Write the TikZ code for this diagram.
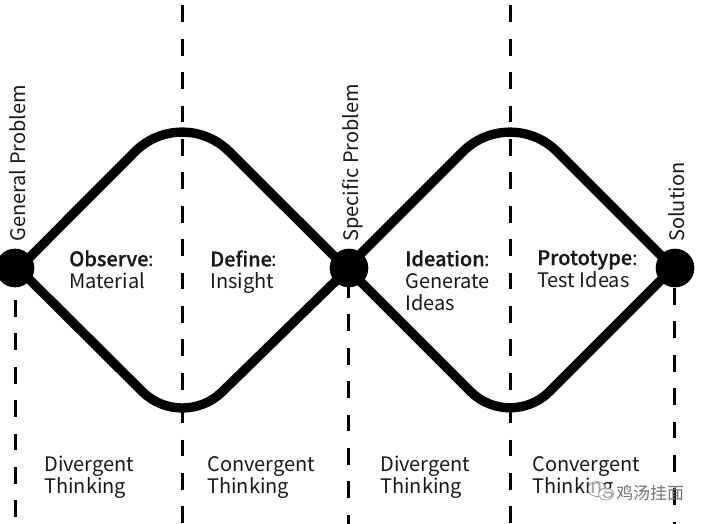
\documentclass[tikz,border=0pt]{standalone}
\usepackage{fontspec}
\setmainfont{Noto Sans CJK SC}[BoldFont={Noto Sans CJK SC Medium},BoldFeatures={FakeBold=0.6}]
\newfontfamily\cjk{Noto Sans CJK SC}
\tikzset{
 px/.style={x=0.75pt,y=-0.75pt},
 dot/.style={circle,fill=black,inner sep=0pt,minimum size=29pt},
 dashline/.style={line width=2.25pt,dash pattern=on 12.6pt off 12.45pt},
 curvetop/.style={line width=7pt,rounded corners=50pt},
 curvebot/.style={line width=7pt,rounded corners=42pt},
 lab/.style={font=\fontsize{15}{16.5}\selectfont,align=left,anchor=north west,inner sep=0pt,text=black!90},
 rot/.style={font=\fontsize{15}{16.5}\selectfont,rotate=90,anchor=west,inner sep=0pt,text=black!90},
 wm/.style={draw=black!45,line width=0.5pt,fill=white,fill opacity=0.6},
}
\begin{document}
\begin{tikzpicture}[px]
\useasboundingbox (0,0) rectangle (706,524);
\clip (0,0) rectangle (706,524);
\coordinate (t1) at (182,5.4); \coordinate (b1) at (182,524);
\coordinate (t2) at (510,5.4); \coordinate (b2) at (510,524);
\coordinate (s0) at (15,300); \coordinate (b0) at (15,524);
\coordinate (s3) at (348.6,281); \coordinate (b3) at (348.6,524);
\coordinate (s4) at (674,288); \coordinate (b4) at (674,524);
\coordinate (ap1) at (182,104.5); \coordinate (ap2) at (510,104.5);
\coordinate (ab1) at (182,431); \coordinate (ab2) at (510,431);
\node[dot] (a) at (15,268) {};
\node[dot] (b) at (349,268) {};
\node[dot] (c) at (675,268) {};
\draw[dashline] (t1) -- (b1);
\draw[dashline] (t2) -- (b2);
\draw[dashline] (s0) -- (b0);
\draw[dashline] (s3) -- (b3);
\draw[dashline] (s4) -- (b4);
\draw[curvetop] ([yshift=-3pt]a.center) -- (ap1) -- ([yshift=-2.2pt]b.center);
\draw[curvebot] ([yshift=2.2pt]a.center) -- (ab1) -- (b.center);
\draw[curvetop] ([yshift=1.8pt]b.center) -- (ap2) -- ([yshift=-1.2pt]c.center);
\draw[curvebot] ([yshift=-1.5pt]b.center) -- (ab2) -- ([yshift=1.5pt]c.center);
\node[rot] (g) at (18,242) {General Problem};
\node[rot] (s) at (352.5,242) {Specific Problem};
\node[rot] (so) at (677,242) {Solution};
\node[lab] (l1) at (69,250) {\textbf{Observe}:\\Material};
\node[lab] (l2) at (210,250) {\textbf{Define}:\\Insight};
\node[lab] (l3) at (405,250) {\textbf{Ideation}:\\Generate\\Ideas};
\node[lab] (l4) at (537,250) {\textbf{Prototype}:\\Test Ideas};
\node[lab] (d1) at (44,456) {Divergent\\Thinking};
\node[lab] (d2) at (207,456) {Convergent\\Thinking};
\node[lab] (d3) at (380,456) {Divergent\\Thinking};
\node[lab] (d4) at (532,456) {Convergent\\Thinking};
\draw[wm] (597,489) ellipse (9 and 7.5);
\draw[wm] (606,494) ellipse (7.5 and 6);
\node[anchor=west,inner sep=0pt,text=black!55,font=\cjk\fontsize{12.7}{14}\selectfont] (w) at (616,493) {鸡汤挂面};
\end{tikzpicture}
\end{document}
